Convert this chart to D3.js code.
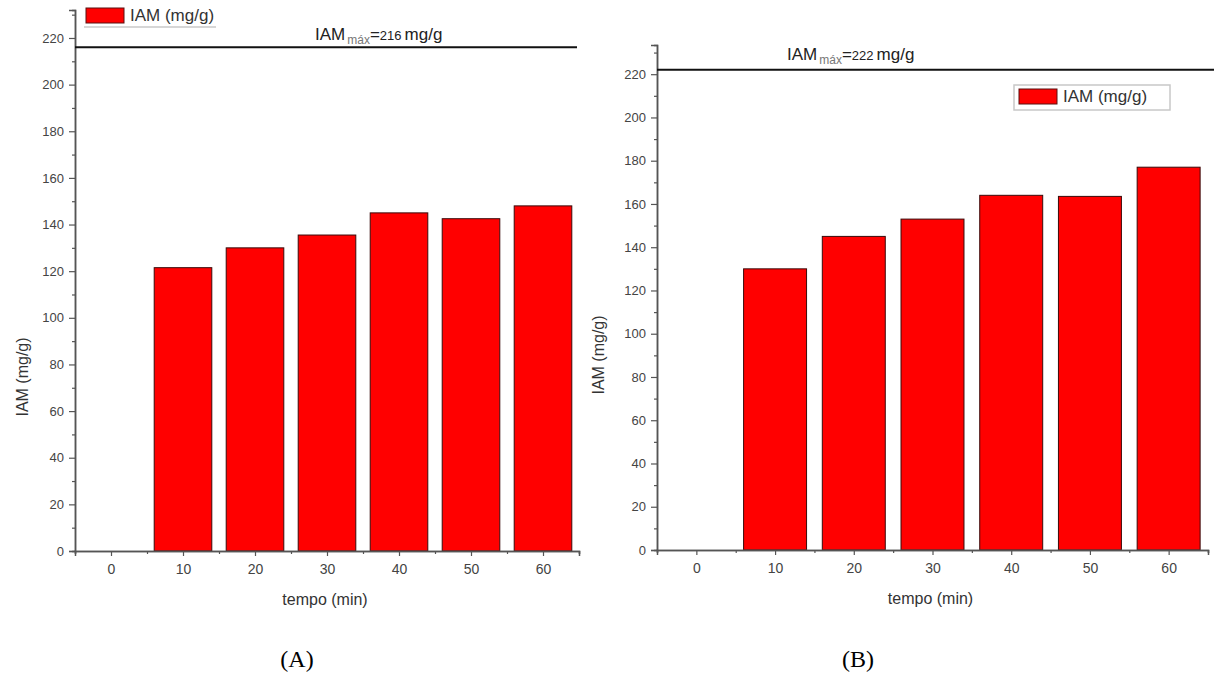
<!DOCTYPE html>
<html>
<head>
<meta charset="utf-8">
<script src="https://cdn.jsdelivr.net/npm/d3@7"></script>
<style>
  body { margin: 0; background: #fff; }
  svg { display: block; }
  text { font-family: "Liberation Sans", Arial, sans-serif; }
</style>
</head>
<body>
<div id="chart"></div>
<script>
// data
var tempos = [0, 10, 20, 30, 40, 50, 60];
var iamA = [0, 121.5, 130, 135.5, 145, 142.5, 148];
var iamB = [0, 130, 145, 153, 164, 163.5, 177];
var iamMax = [216, 222];
var yTicks = [0, 20, 40, 60, 80, 100, 120, 140, 160, 180, 200, 220];
var xTicks = [0, 10, 20, 30, 40, 50, 60];
var panelNames = ['(A)', '(B)'];
var seriesName = 'IAM (mg/g)';

var width = 1214, height = 680;
var barColor = '#ff0000';

var svg = d3.select('#chart')
  .append('svg')
  .attr('width', width)
  .attr('height', height);

// layout of each panel (pixel positions only)
var panels = [
  { values: iamA, max: iamMax[0], name: panelNames[0],
    left: 75, right: 579, top: 10, bottom: 551, yTop: 232, lineEnd: 577,
    ylabX: 22, ylabY: 377, nameX: 297,
    maxX: 315, maxY: 40,
    legend: { x: 86, y: 8, fx: 80, fy: 4, fw: 136, fh: 23, full: false } },
  { values: iamB, max: iamMax[1], name: panelNames[1],
    left: 657, right: 1208, top: 45, bottom: 550, yTop: 233.5, lineEnd: 1214,
    ylabX: 598, ylabY: 355, nameX: 858,
    maxX: 787, maxY: 60,
    legend: { x: 1019, y: 89, fx: 1014, fy: 85, fw: 156, fh: 25, full: true } }
];

panels.forEach(drawPanel);

function drawPanel(p) {
  var g = svg.append('g');

  var x = d3.scaleLinear().domain([-5, 65]).range([p.left, p.right]);
  var y = d3.scaleLinear().domain([0, p.yTop]).range([p.bottom, p.top]);

  // bars
  var data = tempos.map(function(t, i) { return { t: t, v: p.values[i] }; })
    .filter(function(d) { return d.v > 0; });

  g.selectAll('.bar')
    .data(data)
    .enter()
    .append('rect')
    .attr('class', 'bar')
    .attr('x', function(d) { return x(d.t - 4); })
    .attr('width', function(d) { return x(d.t + 4) - x(d.t - 4); })
    .attr('y', function(d) { return y(d.v); })
    .attr('height', function(d) { return y(0) - y(d.v); })
    .attr('fill', barColor)
    .attr('stroke', '#3a0a0a')
    .attr('stroke-width', 1);

  // minor ticks
  var yMinor = d3.range(10, p.yTop, 20);
  g.append('g')
    .attr('transform', 'translate(' + p.left + ',0)')
    .call(d3.axisLeft(y).tickValues(yMinor).tickSize(3).tickFormat(''))
    .call(styleAxis);
  var xMinor = d3.range(-5, 66, 10);
  g.append('g')
    .attr('transform', 'translate(0,' + p.bottom + ')')
    .call(d3.axisBottom(x).tickValues(xMinor).tickSize(3).tickFormat(''))
    .call(styleAxis);

  // major axes
  var yAxis = g.append('g')
    .attr('transform', 'translate(' + p.left + ',0)')
    .call(d3.axisLeft(y).tickValues(yTicks).tickSize(6).tickPadding(5))
    .call(styleAxis);
  yAxis.selectAll('text').style('font-size', '13px');

  var xAxis = g.append('g')
    .attr('transform', 'translate(0,' + p.bottom + ')')
    .call(d3.axisBottom(x).tickValues(xTicks).tickSize(5).tickPadding(8))
    .call(styleAxis);
  xAxis.selectAll('text').style('font-size', '14px');

  // axis titles
  g.append('text')
    .attr('x', (p.left + p.right) / 2 - 2)
    .attr('y', p.bottom + 54)
    .attr('text-anchor', 'middle')
    .style('font-size', '16px')
    .style('fill', '#333')
    .text('tempo (min)');

  g.append('text')
    .attr('transform', 'translate(' + p.ylabX + ',' + p.ylabY + ') rotate(-90)')
    .attr('dy', '0.35em')
    .attr('text-anchor', 'middle')
    .style('font-size', '16px')
    .style('fill', '#333')
    .text('IAM (mg/g)');

  // IAM max line and label
  g.append('line')
    .attr('x1', p.left)
    .attr('x2', p.lineEnd)
    .attr('y1', y(p.max))
    .attr('y2', y(p.max))
    .attr('stroke', '#111')
    .attr('stroke-width', 2);

  var lab = g.append('text')
    .attr('x', p.maxX)
    .attr('y', p.maxY)
    .style('fill', '#222');
  lab.append('tspan').style('font-size', '17px').text('IAM');
  lab.append('tspan').style('font-size', '12px').attr('dx', 2).attr('dy', 4).style('fill', '#777').text('máx');
  lab.append('tspan').style('font-size', '17px').attr('dy', -4).text('=');
  lab.append('tspan').style('font-size', '13px').text(p.max);
  lab.append('tspan').style('font-size', '17px').attr('dx', 3).text('mg/g');

  // legend (panel A only shows the bottom edge of its frame)
  var L = p.legend;
  if (L.full) {
    g.append('rect')
      .attr('x', L.fx).attr('y', L.fy)
      .attr('width', L.fw).attr('height', L.fh)
      .attr('fill', 'none')
      .attr('stroke', '#c8c8c8')
      .attr('stroke-width', 1.5);
  } else {
    g.append('line')
      .attr('x1', L.x - 2).attr('x2', L.fx + L.fw)
      .attr('y1', L.fy + L.fh).attr('y2', L.fy + L.fh)
      .attr('stroke', '#c8c8c8')
      .attr('stroke-width', 1.5);
  }
  g.append('rect')
    .attr('x', L.x).attr('y', L.y)
    .attr('width', 38).attr('height', 15)
    .attr('fill', barColor)
    .attr('stroke', '#5a1010')
    .attr('stroke-width', 1);
  g.append('text')
    .attr('x', L.x + 44)
    .attr('y', L.y + 13)
    .style('font-size', '17px')
    .style('fill', '#333')
    .text(seriesName);

  // panel name
  svg.append('text')
    .attr('x', p.nameX)
    .attr('y', 667)
    .attr('text-anchor', 'middle')
    .style('font-family', '"Liberation Serif", "Times New Roman", serif')
    .style('font-size', '24px')
    .style('fill', '#000')
    .text(p.name);
}

function styleAxis(sel) {
  sel.select('.domain').attr('stroke', '#555').attr('stroke-width', 1.5);
  sel.selectAll('.tick line').attr('stroke', '#555').attr('stroke-width', 1.2);
  sel.selectAll('.tick text').style('fill', '#444').style('font-family', '"Liberation Sans", Arial, sans-serif');
}
</script>
</body>
</html>
